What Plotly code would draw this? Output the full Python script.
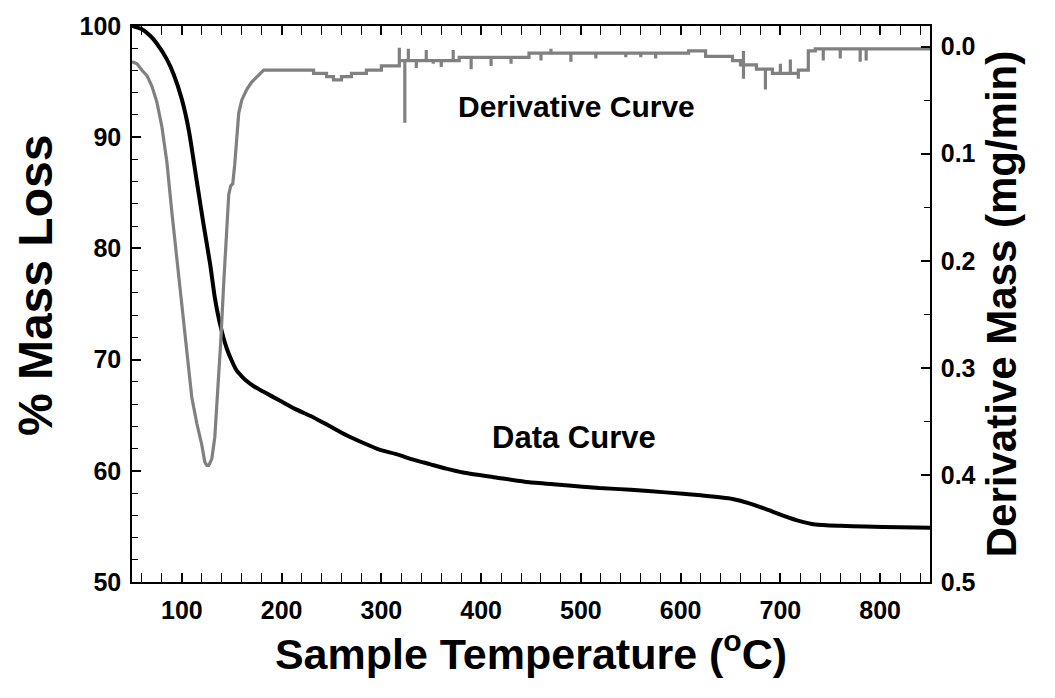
import plotly.graph_objects as go

# ---- Data curve (% mass loss vs temperature) ----
data_temp = [50, 60, 68.5, 75, 85, 92, 100, 107, 115, 122, 128.5, 133, 138.5, 145, 150, 155, 160, 165,
             172, 182, 198.5, 215, 232, 248.5, 265, 282, 298, 315, 332, 348.5, 365, 382, 415, 448.5,
             485, 518.5, 550, 585, 620, 652, 668, 685, 702, 718.5, 735, 760, 785, 820, 850]
data_mass = [100, 99.7, 99.1, 98.4, 97.0, 95.6, 93.4, 90.6, 86.0, 82.0, 78.5, 75.6, 73.1, 71.0, 69.9, 69.0, 68.5, 68.07,
             67.6, 67.1, 66.3, 65.5, 64.8, 64.0, 63.2, 62.5, 61.9, 61.5, 61.0, 60.6, 60.2, 59.85, 59.4, 58.96,
             58.7, 58.45, 58.3, 58.06, 57.8, 57.47, 57.1, 56.57, 56.0, 55.5, 55.17, 55.05, 54.99, 54.92, 54.87]

# ---- Derivative curve (mg/min vs temperature), read point by point incl. steps and spikes ----
deriv_temp = [50, 55, 60, 65, 70, 75, 80, 85, 90, 95,
              100, 105, 110, 115, 120, 123, 125, 127, 130, 133,
              136, 139, 142, 145, 147, 149, 151, 153, 155, 157,
              160, 165, 170, 176, 182, 232, 232, 245, 245, 252,
              252, 260, 260, 270, 270, 285, 285, 300, 300, 318,
              318, 318, 318, 323.5, 323.5, 323.5, 327, 327, 327, 335,
              335, 335, 345, 345, 345, 352, 352, 352, 360, 360,
              360, 372, 372, 372, 378, 378, 390, 390, 390, 410,
              410, 410, 430, 430, 430, 448, 448, 460, 460, 460,
              470, 470, 470, 490, 490, 490, 515, 515, 515, 545,
              545, 545, 560, 560, 560, 575, 575, 575, 608, 608,
              625, 625, 652, 652, 660, 660, 663, 663, 663, 663,
              676, 676, 685, 685, 685, 692, 692, 700, 700, 700,
              710, 710, 710, 718, 718, 718, 728, 728, 735, 735,
              743, 743, 743, 760, 760, 760, 780, 780, 780, 786,
              786, 786, 850]
deriv_val = [0.014, 0.016, 0.022, 0.027, 0.037, 0.052, 0.075, 0.108, 0.155, 0.200,
             0.241, 0.287, 0.328, 0.352, 0.372, 0.388, 0.391, 0.391, 0.385, 0.365,
             0.325, 0.275, 0.220, 0.165, 0.138, 0.130, 0.128, 0.110, 0.080, 0.062,
             0.050, 0.040, 0.033, 0.027, 0.022, 0.022, 0.025, 0.025, 0.028, 0.028,
             0.031, 0.031, 0.028, 0.028, 0.025, 0.025, 0.022, 0.022, 0.018, 0.018,
             0.013, 0.001, 0.013, 0.013, 0.071, 0.013, 0.013, 0.002, 0.013, 0.013,
             0.020, 0.013, 0.013, 0.003, 0.013, 0.013, 0.016, 0.013, 0.013, 0.019,
             0.013, 0.013, 0.003, 0.013, 0.013, 0.010, 0.010, 0.021, 0.010, 0.010,
             0.018, 0.010, 0.010, 0.016, 0.010, 0.010, 0.006, 0.006, 0.013, 0.006,
             0.006, 0.002, 0.006, 0.006, 0.014, 0.006, 0.006, 0.011, 0.006, 0.006,
             0.010, 0.006, 0.006, 0.010, 0.006, 0.006, 0.011, 0.006, 0.006, 0.004,
             0.004, 0.009, 0.009, 0.013, 0.013, 0.017, 0.017, 0.030, 0.004, 0.017,
             0.017, 0.021, 0.021, 0.040, 0.021, 0.021, 0.025, 0.025, 0.016, 0.025,
             0.025, 0.012, 0.025, 0.025, 0.030, 0.022, 0.022, 0.004, 0.004, 0.002,
             0.002, 0.013, 0.002, 0.002, 0.011, 0.002, 0.002, 0.014, 0.002, 0.002,
             0.013, 0.002, 0.002]

x_ticks = [100, 200, 300, 400, 500, 600, 700, 800]
left_ticks = [50, 60, 70, 80, 90, 100]
right_ticks = [0.0, 0.1, 0.2, 0.3, 0.4, 0.5]
right_tick_text = ["0.0", "0.1", "0.2", "0.3", "0.4", "0.5"]

FONT = "Liberation Sans, Arial, sans-serif"

fig = go.Figure()
fig.add_trace(go.Scatter(x=deriv_temp, y=deriv_val, yaxis="y2", mode="lines",
                         line=dict(color="#808080", width=3.2), showlegend=False))
fig.add_trace(go.Scatter(x=data_temp, y=data_mass, mode="lines",
                         line=dict(color="#000000", width=4, shape="spline", smoothing=0.6), showlegend=False))

tickfont = dict(family=FONT, size=25, color="black", weight="bold")

fig.update_layout(
    width=1055, height=698,
    margin=dict(l=131.5, r=125, t=23.5, b=116),
    paper_bgcolor="white", plot_bgcolor="white",
    xaxis=dict(range=[50, 850], tickvals=x_ticks, ticks="inside", ticklen=9, tickwidth=2,
               tickcolor="black", showline=True, linecolor="black", linewidth=1.5,
               mirror="allticks", showgrid=False, zeroline=False, tickfont=tickfont,
               ticklabelstandoff=5,
               minor=dict(dtick=20, tick0=0, ticks="inside", ticklen=6, tickwidth=1.2, tickcolor="black"),
               title=dict(text="Sample Temperature (<sup>o</sup>C)",
                          font=dict(family=FONT, size=43, color="black", weight="bold"), standoff=12)),
    yaxis=dict(range=[50, 100], tickvals=left_ticks, ticks="inside", ticklen=9, tickwidth=2,
               tickcolor="black", showline=True, linecolor="black", linewidth=1.5,
               showgrid=False, zeroline=False, tickfont=tickfont, ticklabelstandoff=4,
               minor=dict(dtick=2, tick0=0, ticks="inside", ticklen=6, tickwidth=1.2, tickcolor="black")),
    yaxis2=dict(overlaying="y", side="right", range=[0.5, -0.0193], tickvals=right_ticks,
                ticktext=right_tick_text, ticks="inside", ticklen=9, tickwidth=2,
                tickcolor="black", showline=True, linecolor="black", linewidth=1.5,
                showgrid=False, zeroline=False, tickfont=tickfont, ticklabelstandoff=4,
                minor=dict(dtick=0.05, tick0=0, ticks="inside", ticklen=6, tickwidth=1.2, tickcolor="black"),
                title=dict(text="Derivative Mass (mg/min)",
                           font=dict(family=FONT, size=42, color="black", weight="bold"), standoff=12)),
    annotations=[
        dict(x=-0.121, y=0.533, xref="paper", yref="paper", text="% Mass Loss", showarrow=False,
             textangle=-90, xanchor="center", yanchor="middle",
             font=dict(family=FONT, size=48, color="black", weight="bold")),
        dict(x=495.5, y=92.8, xref="x", yref="y", text="Derivative Curve", showarrow=False,
             font=dict(family=FONT, size=30, color="black", weight="bold")),
        dict(x=493.5, y=62.96, xref="x", yref="y", text="Data Curve", showarrow=False,
             font=dict(family=FONT, size=31, color="black", weight="bold")),
    ],
)

fig.write_html("out.html")
